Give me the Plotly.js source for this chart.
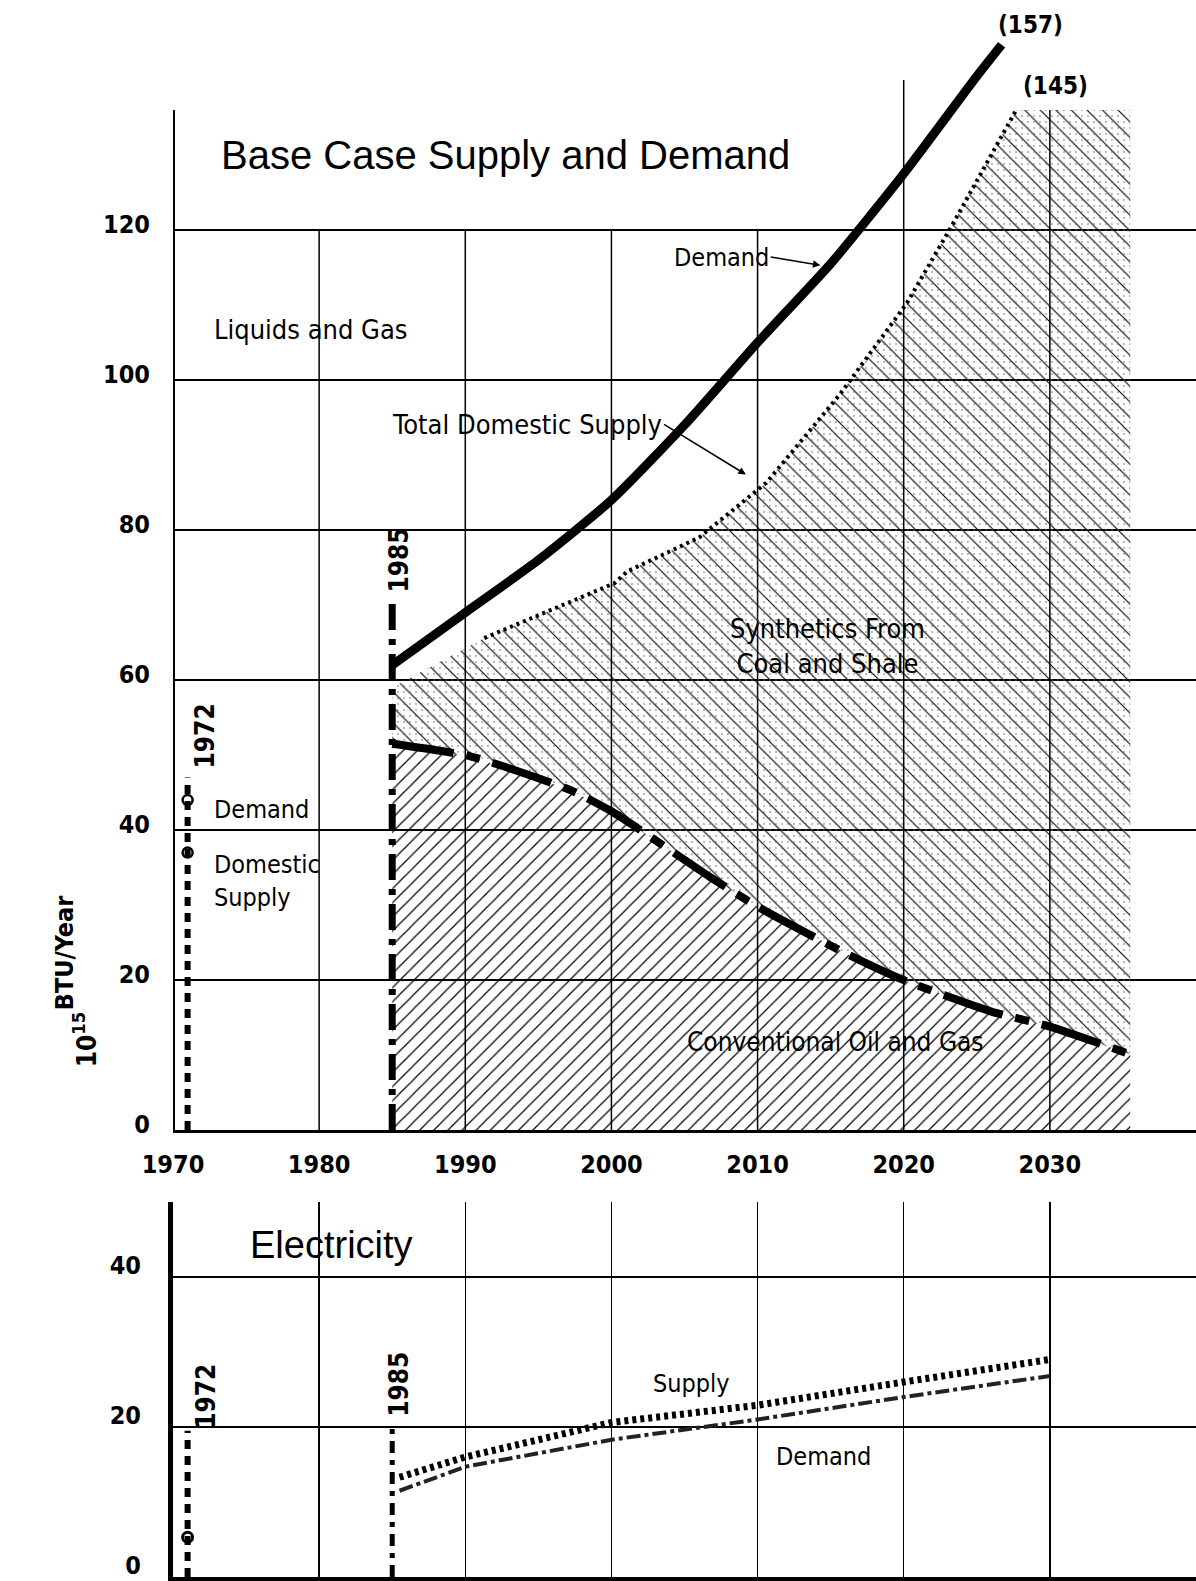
<!DOCTYPE html>
<html>
<head>
<meta charset="utf-8">
<script src="https://cdn.plot.ly/plotly-3.0.1.min.js"></script>
<style>
  html, body { margin: 0; padding: 0; background: #fff; }
  #chart { width: 1196px; height: 1581px; }
</style>
</head>
<body>
<div id="chart"></div>
<script>
// ---------------- DATA ----------------
// Liquids and Gas (10^15 BTU/Year)
var demandYears  = [1985, 1990, 1995, 2000, 2005, 2010, 2015, 2020, 2025, 2026.7];
var demandValues = [62, 69, 76, 84, 94, 105, 115.5, 127.5, 140.5, 144.7];

var supplyYears  = [1985, 1991.3, 2000.2, 2001.1, 2006, 2010.6, 2015.6, 2020.2, 2023.3, 2027.7, 2035.5];
var supplyValues = [59, 65.6, 72.9, 74.5, 79, 86.3, 98, 110.2, 120.6, 136, 136];

var convYears  = [1985, 1990.4, 1997.1, 2000, 2006.7, 2010, 2016.1, 2020, 2026, 2030, 2035.5];
var convValues = [51.5, 49.8, 45.4, 42.5, 33.8, 29.8, 23.5, 20, 15.8, 13.8, 10.1];

// Electricity
var elecYears  = [1985.5, 1990, 2000, 2010, 2020, 2030];
var elecSupply = [13.3, 16, 20.6, 22.9, 26, 29];
var elecDemand = [11.5, 14.7, 18.3, 21, 24, 26.8];

// reference-year marker lines
var year1972 = 1971;
var year1985 = 1985;
var line1972Top = [0, 47];
var line1985Top = [0, 71];
var points1972Top = [44, 37];      // 1972 demand, domestic supply
var line1972Bottom = [0, 19.5];
var points1972Bottom = [5.3];
var line1985Bottom = [0, 20];

// axis ticks
var xTickYears = [1970, 1980, 1990, 2000, 2010, 2020, 2030];
var yTicksTop = [0, 20, 40, 60, 80, 100, 120];
var yTicksBottom = [0, 20, 40];

// ---------------- STYLE ----------------
var NARROW = '"Liberation Sans Narrow", "DejaVu Sans Condensed", "Roboto Condensed", "Arial Narrow", sans-serif';
var SANS = '"Liberation Sans", Arial, Helvetica, sans-serif';
var CLEAR = 'rgba(0,0,0,0)';

function xy(a) { return [a, a]; }

var traces = [
  // conventional oil & gas area
  { x: convYears, y: convValues, xaxis: 'x', yaxis: 'y', mode: 'lines',
    line: { width: 0, color: '#000' }, fill: 'tozeroy',
    fillpattern: { shape: '/', size: 10, solidity: 0.12, fgcolor: '#000', bgcolor: CLEAR, fillmode: 'replace' },
    hoverinfo: 'skip' },
  // synthetics area (hatch)
  { x: supplyYears, y: supplyValues, xaxis: 'x', yaxis: 'y', mode: 'lines',
    line: { width: 0, color: '#000' }, fill: 'tonexty',
    fillpattern: { shape: '\\', size: 11, solidity: 0.1, fgcolor: '#000', bgcolor: CLEAR, fillmode: 'replace' },
    hoverinfo: 'skip' },
  // base again for stipple overlay
  { x: convYears, y: convValues, xaxis: 'x', yaxis: 'y', mode: 'lines',
    line: { width: 0, color: '#000' }, hoverinfo: 'skip' },
  { x: supplyYears, y: supplyValues, xaxis: 'x', yaxis: 'y', mode: 'lines',
    line: { width: 0, color: '#000' }, fill: 'tonexty',
    fillpattern: { shape: '.', size: 6, solidity: 0.06, fgcolor: '#666', bgcolor: CLEAR, fillmode: 'replace' },
    hoverinfo: 'skip' },
  // demand
  { x: demandYears, y: demandValues, xaxis: 'x', yaxis: 'y', mode: 'lines',
    line: { width: 9, color: '#000', shape: 'spline', smoothing: 0.6 }, hoverinfo: 'skip' },
  // total domestic supply (dotted)
  { x: supplyYears.slice(1, supplyYears.length - 1), y: supplyValues.slice(1, supplyValues.length - 1),
    xaxis: 'x', yaxis: 'y', mode: 'lines',
    line: { width: 4, color: '#000', dash: '3px,4px' }, hoverinfo: 'skip' },
  // conventional oil & gas (dash-dot)
  { x: convYears, y: convValues, xaxis: 'x', yaxis: 'y', mode: 'lines',
    line: { width: 8, color: '#000', dash: '62px,13px,14px,13px', shape: 'spline', smoothing: 0.6 }, hoverinfo: 'skip' },
  // 1985 line (top)
  { x: xy(year1985), y: line1985Top, xaxis: 'x', yaxis: 'y', mode: 'lines',
    line: { width: 7, color: '#000', dash: '26px,9px,6px,9px' }, hoverinfo: 'skip' },
  // 1972 line (top)
  { x: xy(year1972), y: line1972Top, xaxis: 'x', yaxis: 'y', mode: 'lines',
    line: { width: 6, color: '#000', dash: '9px,7px' }, hoverinfo: 'skip' },
  { x: [year1972, year1972], y: points1972Top, xaxis: 'x', yaxis: 'y', mode: 'markers',
    marker: { symbol: 'circle-open', size: 10, color: '#000', line: { width: 2.5 } }, hoverinfo: 'skip' },
  // electricity supply
  { x: elecYears, y: elecSupply, xaxis: 'x2', yaxis: 'y2', mode: 'lines',
    line: { width: 7, color: '#000', dash: '4px,4px' }, hoverinfo: 'skip' },
  // electricity demand
  { x: elecYears, y: elecDemand, xaxis: 'x2', yaxis: 'y2', mode: 'lines',
    line: { width: 4, color: '#222', dash: '14px,4px,4px,4px' }, hoverinfo: 'skip' },
  // 1972 / 1985 lines (bottom)
  { x: xy(year1972), y: line1972Bottom, xaxis: 'x2', yaxis: 'y2', mode: 'lines',
    line: { width: 6, color: '#000', dash: '9px,7px' }, hoverinfo: 'skip' },
  { x: [year1972], y: points1972Bottom, xaxis: 'x2', yaxis: 'y2', mode: 'markers',
    marker: { symbol: 'circle-open', size: 10, color: '#000', line: { width: 3 } }, hoverinfo: 'skip' },
  { x: xy(year1985), y: line1985Bottom, xaxis: 'x2', yaxis: 'y2', mode: 'lines',
    line: { width: 5, color: '#000', dash: '12px,7px,5px,7px' }, hoverinfo: 'skip' }
];

// vertical grid lines in the upper panel (drawn as shapes, heights as in the original)
var vGridYears = [1980, 1990, 2000, 2010, 2020, 2030];
var vGridTops  = [120, 120, 120, 120, 140, 136];
var shapes = vGridYears.map(function (yr, i) {
  return { type: 'line', xref: 'x', yref: 'y', x0: yr, x1: yr, y0: 0, y1: vGridTops[i],
           line: { color: '#000', width: 1.5 }, layer: 'below' };
});
// left axis of the upper panel
shapes.push({ type: 'line', xref: 'x', yref: 'y', x0: 1970, x1: 1970, y0: 0, y1: 136,
              line: { color: '#000', width: 4 }, layer: 'above' });

function lab(text, x, y, size, opts) {
  var a = { text: text, x: x, y: y, xref: 'x', yref: 'y', showarrow: false,
            font: { family: NARROW, size: size, color: '#000' } };
  for (var k in (opts || {})) a[k] = opts[k];
  return a;
}
function arrowLab(text, tx, ty, px, py, size) {
  // text ends at (tx, ty); arrow points to (px, py)
  return { text: text, x: px, y: py, ax: tx, ay: ty, xref: 'x', yref: 'y', axref: 'x', ayref: 'y',
           xanchor: 'right', showarrow: true, arrowhead: 2, arrowsize: 1, arrowwidth: 1.5,
           arrowcolor: '#000', standoff: 0,
           font: { family: NARROW, size: size, color: '#000' } };
}

var boldLab = { family: NARROW, size: 24, color: '#000', weight: 'bold' };

var annotations = [
  lab('Base Case Supply and Demand', 1973.15, 130, 40, { xanchor: 'left', font: { family: SANS, size: 40, color: '#000' } }),
  lab('Liquids and Gas', 1972.7, 106.8, 27, { xanchor: 'left' }),
  arrowLab('Demand', 2010.9, 116.4, 2014.3, 115.3, 25),
  arrowLab('Total Domestic Supply', 2003.6, 94.1, 2009.2, 87.4, 27),
  lab('Synthetics From<br>Coal and Shale', 2014.8, 64.5, 27, { align: 'center' }),
  lab('Conventional Oil and Gas', 2015.3, 11.8, 26),
  lab('(157)', 2028.7, 147.3, 24, { font: boldLab }),
  lab('(145)', 2030.4, 139.2, 24, { font: boldLab }),
  lab('1972', 1972.2, 52.5, 26, { textangle: -90, font: { family: NARROW, size: 26, color: '#000', weight: 'bold' } }),
  lab('1985', 1985.5, 76, 26, { textangle: -90, font: { family: NARROW, size: 26, color: '#000', weight: 'bold' } }),
  lab('Demand', 1972.7, 42.7, 25, { xanchor: 'left' }),
  lab('Domestic<br>Supply', 1972.7, 33.2, 25, { xanchor: 'left', align: 'left' }),
  // electricity panel
  { text: 'Electricity', x: 1975.1, y: 44.3, xref: 'x2', yref: 'y2', xanchor: 'left', showarrow: false,
    font: { family: SANS, size: 38, color: '#000' } },
  { text: 'Supply', x: 2005.5, y: 25.8, xref: 'x2', yref: 'y2', showarrow: false,
    font: { family: NARROW, size: 25, color: '#000' } },
  { text: 'Demand', x: 2014.5, y: 16, xref: 'x2', yref: 'y2', showarrow: false,
    font: { family: NARROW, size: 25, color: '#000' } },
  { text: '1972', x: 1972.3, y: 24.1, xref: 'x2', yref: 'y2', showarrow: false, textangle: -90,
    font: { family: NARROW, size: 26, color: '#000', weight: 'bold' } },
  { text: '1985', x: 1985.5, y: 25.7, xref: 'x2', yref: 'y2', showarrow: false, textangle: -90,
    font: { family: NARROW, size: 26, color: '#000', weight: 'bold' } },
  // y-axis title
  { text: '10<sup>15</sup>', xref: 'paper', yref: 'paper', x: -0.105, y: 0.322, showarrow: false, textangle: -90,
    font: { family: NARROW, size: 26, color: '#000', weight: 'bold' } },
  { text: 'BTU/Year', xref: 'paper', yref: 'paper', x: -0.122, y: 0.396, showarrow: false, textangle: -90,
    font: { family: NARROW, size: 25, color: '#000', weight: 'bold' } }
];

var tickFont = { family: NARROW, size: 25, color: '#000', weight: 'bold' };

var layout = {
  width: 1196, height: 1581,
  margin: { l: 173, r: 0, t: 0, b: 4, pad: 0 },
  paper_bgcolor: '#fff', plot_bgcolor: '#fff',
  showlegend: false,
  font: { family: NARROW, color: '#000' },
  xaxis: { domain: [0, 1], range: [1970, 2040], anchor: 'y', tickvals: xTickYears,
           ticktext: xTickYears.map(String),
           showgrid: false, zeroline: false, showline: true, linewidth: 3, linecolor: '#000',
           ticks: '', tickfont: tickFont, ticklabelstandoff: 10 },
  yaxis: { domain: [0.2834, 0.99683], range: [0, 150], anchor: 'x', tickvals: yTicksTop,
           ticktext: yTicksTop.map(String),
           showgrid: true, gridcolor: '#000', gridwidth: 2, zeroline: false, showline: false,
           ticks: '', tickfont: tickFont, ticklabelstandoff: 22, ticklabelshift: -6 },
  xaxis2: { domain: [0, 1], range: [1970, 2040], anchor: 'y2', tickvals: xTickYears.slice(1),
            showticklabels: false, showgrid: true, gridcolor: '#000', gridwidth: 1.5,
            zeroline: false, showline: true, linewidth: 4, linecolor: '#000', ticks: '' },
  yaxis2: { domain: [0, 0.2378], range: [0, 50], anchor: 'x2', tickvals: yTicksBottom,
            ticktext: yTicksBottom.map(String),
            showgrid: true, gridcolor: '#000', gridwidth: 2, zeroline: false,
            showline: true, linewidth: 5, linecolor: '#000', ticklabeloverflow: 'allow',
            ticks: '', tickfont: tickFont, ticklabelstandoff: 22, ticklabelshift: -12 },
  shapes: shapes,
  annotations: annotations
};

Plotly.newPlot('chart', traces, layout, { staticPlot: true, displayModeBar: false });
</script>
</body>
</html>
